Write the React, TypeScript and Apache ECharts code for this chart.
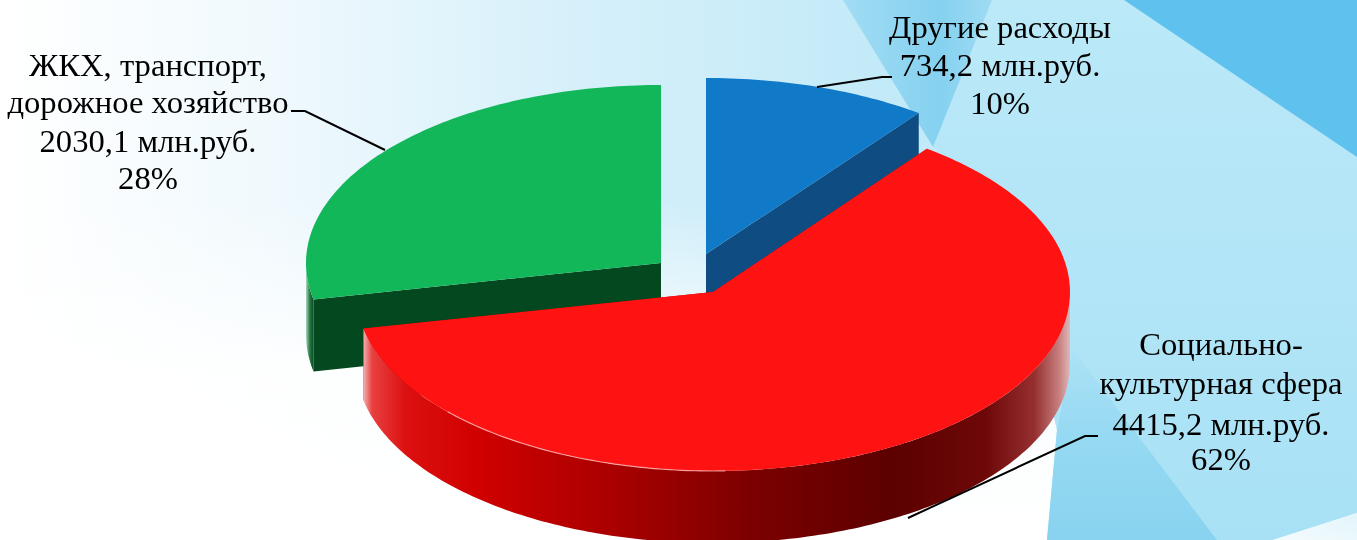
import React, { useEffect, useRef } from "react";
import * as echarts from "echarts";

// Slices in clockwise order starting from the top of the pie
const sliceNames = ["Другие расходы", "Социально-культурная сфера", "ЖКХ, транспорт, дорожное хозяйство"];
const sliceValues = [734.2, 4415.2, 2030.1];
const sliceColors = ["#117ac8", "#ff1212", "#12b75a"];
const drawOrder = [0, 2, 1];

const labelLines = [
  ["Другие расходы", "734,2 млн.руб.", "10%"],
  ["Социально-", "культурная сфера", "4415,2 млн.руб.", "62%"],
  ["ЖКХ, транспорт,", "дорожное хозяйство", "2030,1 млн.руб.", "28%"],
];

const W = 1357;
const H = 540;
const DEPTH = 72;
const radii = [
  [355, 176],
  [357, 179],
  [355, 178],
];
const centers = [
  [706, 254],
  [713, 292],
  [661, 263],
];
const labelPos = [
  { x: 1000, ys: [27, 65, 103] },
  { x: 1221, ys: [344, 383, 424, 459] },
  { x: 148, ys: [65, 102, 141, 178] },
];
const leaders = [
  [[817, 87], [882, 77], [892, 77]],
  [[908, 518], [1085, 436], [1098, 436]],
  [[385, 150], [305, 111], [291, 111]],
];

const total = sliceValues.reduce((a, b) => a + b, 0);
const spans = (() => {
  let acc = 0;
  return sliceValues.map((v) => {
    const s = (acc / total) * 360;
    acc += v;
    return [s, (acc / total) * 360];
  });
})();

const rim = (i: number, deg: number, dy = 0) => {
  const r = (deg * Math.PI) / 180;
  return [centers[i][0] + radii[i][0] * Math.sin(r), centers[i][1] - radii[i][1] * Math.cos(r) + dy];
};
const arcPts = (i: number, a: number, b: number, dy = 0) => {
  const pts: number[][] = [];
  const n = Math.max(2, Math.ceil(Math.abs(b - a)));
  for (let k = 0; k <= n; k++) pts.push(rim(i, a + ((b - a) * k) / n, dy));
  return pts;
};
const lin = (stops: [number, string][]) =>
  new echarts.graphic.LinearGradient(
    0,
    0,
    1,
    0,
    stops.map(([offset, color]) => ({ offset, color }))
  );

const wallFills: any[] = [
  "#0f4c81",
  lin([
    [0, "#f2b0b0"],
    [0.012, "#e84040"],
    [0.06, "#dc1010"],
    [0.16, "#d00000"],
    [0.36, "#a80000"],
    [0.55, "#7c0000"],
    [0.75, "#5c0000"],
    [0.88, "#6e0808"],
    [0.95, "#963030"],
    [0.985, "#c88080"],
    [1, "#e0b8b8"],
  ]),
  lin([
    [0, "#a8d8b8"],
    [0.5, "#2a7a48"],
    [1, "#03481f"],
  ]),
];
const cutFills = ["#0f4c81", "#c00000", "#03481f"];

const renderItem = (_p: any, api: any) => {
  const i = api.value(0);
  const [a, b] = spans[i];
  const c = centers[i];
  const children: any[] = [];
  for (const deg of [a, b]) {
    const e = rim(i, deg);
    children.push({
      type: "polygon",
      shape: { points: [c, e, [e[0], e[1] + DEPTH], [c[0], c[1] + DEPTH]] },
      style: { fill: cutFills[i] },
    });
  }
  const wa = Math.max(a, 90);
  const wb = Math.min(b, 270);
  if (wb > wa) {
    children.push({
      type: "polygon",
      shape: { points: [...arcPts(i, wa, wb), ...arcPts(i, wb, wa, DEPTH)] },
      style: { fill: wallFills[i] },
    });
  }
  children.push({
    type: "polygon",
    shape: { points: [c, ...arcPts(i, a, b)] },
    style: { fill: sliceColors[i] },
  });
  if (i === 1) {
    children.push({
      type: "polyline",
      shape: { points: arcPts(i, 178, 228) },
      style: { fill: "none", stroke: "rgba(255,190,190,0.75)", lineWidth: 1.2 },
    });
  }
  return { type: "group", children };
};

const poly = (points: number[][], fill: any, z = -9) => ({
  type: "polygon",
  z,
  silent: true,
  shape: { points },
  style: { fill },
});

const backdrop: any[] = [
  {
    type: "rect",
    z: -10,
    silent: true,
    shape: { x: 0, y: 0, width: W, height: H },
    style: {
      fill: new echarts.graphic.LinearGradient(0, 0, 1, 0, [
        { offset: 0, color: "#ffffff" },
        { offset: 0.2, color: "#f0f9fd" },
        { offset: 0.42, color: "#d6f0fa" },
        { offset: 0.65, color: "#c3eaf8" },
        { offset: 1, color: "#b6e6f7" },
      ]),
    },
  },
  {
    type: "rect",
    z: -10,
    silent: true,
    shape: { x: 0, y: 200, width: W, height: 340 },
    style: {
      fill: new echarts.graphic.LinearGradient(0, 0, 0, 1, [
        { offset: 0, color: "rgba(255,255,255,0)" },
        { offset: 0.5, color: "rgba(255,255,255,0.9)" },
        { offset: 1, color: "#ffffff" },
      ]),
    },
  },
  poly(
    [[992, 0], [1357, 0], [1357, 513], [1273, 540], [1047, 540], [1057, 430], [1000, 200], [933, 147]],
    new echarts.graphic.LinearGradient(0, 0, 0, 1, [
      { offset: 0, color: "#bbe9f8" },
      { offset: 0.5, color: "#b2e5f7" },
      { offset: 1, color: "#a8e1f5" },
    ])
  ),
  poly(
    [[843, 0], [992, 0], [933, 147]],
    new echarts.graphic.LinearGradient(0, 0, 1, 0, [
      { offset: 0, color: "#a2dcf3" },
      { offset: 0.65, color: "#85d1f0" },
      { offset: 1, color: "#9fdbf3" },
    ])
  ),
  poly(
    [[1073, 350], [1217, 540], [1047, 540], [1057, 430]],
    new echarts.graphic.LinearGradient(0, 0, 0, 1, [
      { offset: 0, color: "#abe2f6" },
      { offset: 0.45, color: "#96d9f2" },
      { offset: 1, color: "#89d3f0" },
    ])
  ),
  poly(
    [[1357, 513], [1357, 540], [1273, 540]],
    new echarts.graphic.LinearGradient(1, 0, 0, 1, [
      { offset: 0, color: "#e2f5fb" },
      { offset: 1, color: "#f4fbfd" },
    ])
  ),
  poly([[1124, 0], [1357, 0], [1357, 157]], "#5fc1ee"),
];

const texts: any[] = labelLines.flatMap((lines, i) =>
  lines.map((text, j) => ({
    type: "text",
    z: 20,
    silent: true,
    x: labelPos[i].x,
    y: labelPos[i].ys[j],
    scaleX: 1.02,
    style: {
      text,
      x: 0,
      y: 0,
      fill: "#000000",
      fontFamily: "'Liberation Serif'",
      fontSize: 32,
      textAlign: "center",
      textVerticalAlign: "middle",
    },
  }))
);

const leaderLines: any[] = leaders.map((points) => ({
  type: "polyline",
  z: 20,
  silent: true,
  shape: { points },
  style: { fill: "none", stroke: "#000000", lineWidth: 2 },
}));

export default function App() {
  const ref = useRef<HTMLDivElement>(null);
  useEffect(() => {
    const chart = echarts.init(ref.current!, null, { renderer: "svg", width: W, height: H });
    chart.setOption({
      animation: false,
      graphic: { elements: [...backdrop, ...leaderLines, ...texts] },
      series: [
        {
          type: "custom",
          coordinateSystem: "none",
          silent: true,
          z: 5,
          renderItem,
          encode: { itemName: 2 },
          data: drawOrder.map((i) => [i, sliceValues[i], sliceNames[i]]),
        },
      ],
    });
    return () => chart.dispose();
  }, []);
  return <div ref={ref} style={{ position: "fixed", left: 0, top: 0, width: W, height: H }} />;
}
